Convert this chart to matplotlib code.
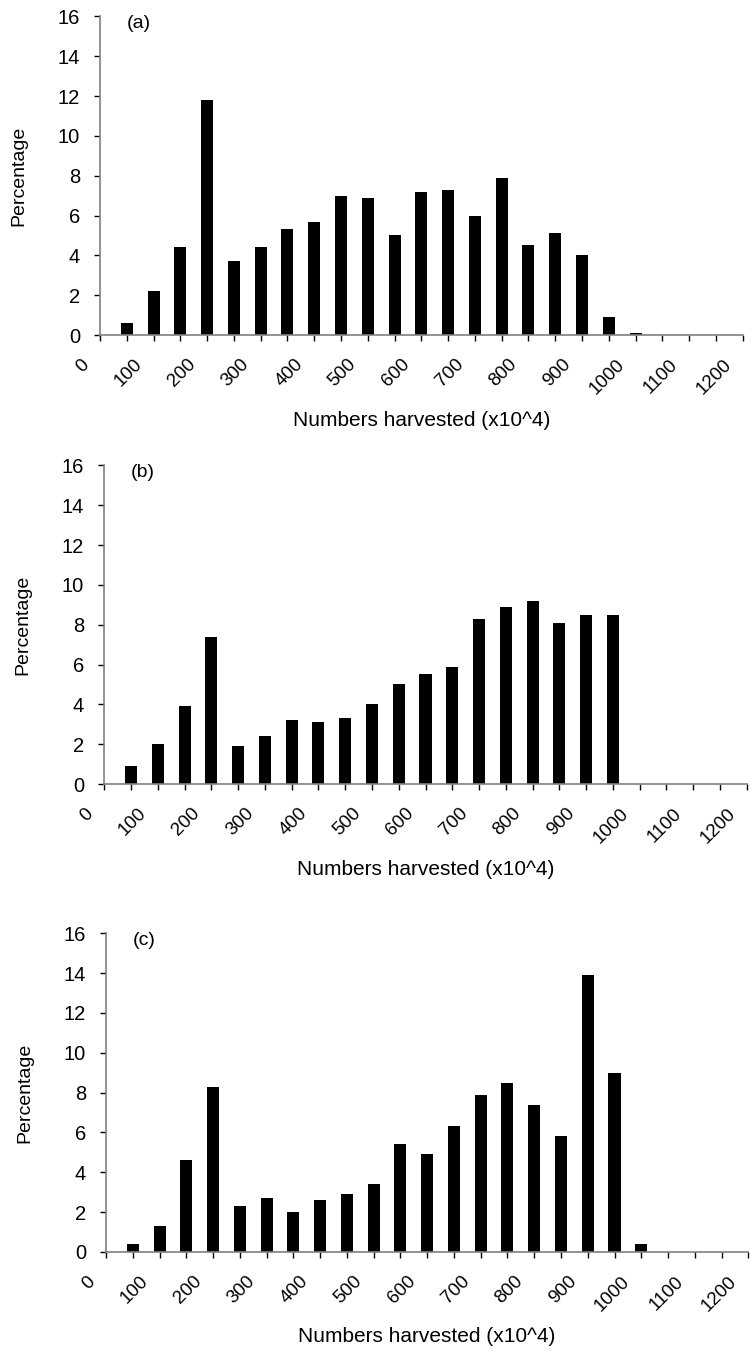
import matplotlib
matplotlib.use("Agg")
import matplotlib.pyplot as plt
from matplotlib.transforms import ScaledTranslation

plt.rcParams['font.family'] = ['Liberation Sans', 'DejaVu Sans']

# bin centres (numbers harvested, x10^4)
bins = [0, 50, 100, 150, 200, 250, 300, 350, 400, 450, 500, 550, 600,
        650, 700, 750, 800, 850, 900, 950, 1000, 1050, 1100, 1150, 1200]

pct_a = [0, 0.6, 2.2, 4.4, 11.8, 3.7, 4.4, 5.3, 5.7, 7.0, 6.9, 5.0, 7.2,
         7.3, 6.0, 7.9, 4.5, 5.1, 4.0, 0.9, 0.1, 0, 0, 0, 0]
pct_b = [0, 0.9, 2.0, 3.9, 7.4, 1.9, 2.4, 3.2, 3.1, 3.3, 4.0, 5.0, 5.5,
         5.9, 8.3, 8.9, 9.2, 8.1, 8.5, 8.5, 0, 0, 0, 0, 0]
pct_c = [0, 0.4, 1.3, 4.6, 8.3, 2.3, 2.7, 2.0, 2.6, 2.9, 3.4, 5.4, 4.9,
         6.3, 7.9, 8.5, 7.4, 5.8, 13.9, 9.0, 0.4, 0, 0, 0, 0]

panels = ['(a)', '(b)', '(c)']
yticks = [0, 2, 4, 6, 8, 10, 12, 14, 16]

fig = plt.figure(figsize=(7.52, 13.52), dpi=100)
boxes = [[0.1330, 0.7522, 0.8546, 0.2357],
         [0.1387, 0.4201, 0.8543, 0.2357],
         [0.1410, 0.0740, 0.8541, 0.2357]]

pos = list(range(len(bins)))

for box, vals, tag in zip(boxes, [pct_a, pct_b, pct_c], panels):
    ax = fig.add_axes(box)
    ax.bar(pos, vals, width=0.45, color='black', linewidth=0)
    ax.set_xlim(0, 24)
    ax.set_ylim(0, 16)
    ax.set_yticks(yticks)
    ax.set_xticks(pos)
    ax.tick_params(axis='x', labelbottom=False)
    # rotated category labels, Excel style (every other bin)
    shift = ScaledTranslation(-0.14, -0.27, fig.dpi_scale_trans)
    for p, b in zip(pos, bins):
        if b % 100 == 0:
            ax.text(p, 0, str(b), transform=ax.get_xaxis_transform() + shift,
                    rotation=45, ha='right', va='center',
                    rotation_mode='anchor', fontsize=13.5)
    for s in ['top', 'right']:
        ax.spines[s].set_visible(False)
    for s in ['left', 'bottom']:
        ax.spines[s].set_color('#808080')
        ax.spines[s].set_linewidth(1.2)
    ax.tick_params(axis='y', length=4.5, width=1, pad=10, labelsize=14.5)
    ax.tick_params(axis='x', length=4.5, width=1)
    ax.set_ylabel('Percentage', fontsize=14, labelpad=22)
    ax.set_xlabel('Numbers harvested (x10^4)', fontsize=15, va='center')
    ax.xaxis.set_label_coords(0.5, -85 / (box[3] * 1352))
    ax.text(1.0, 15.65, tag, fontsize=14, ha='left', va='center')

fig.savefig('out.png', dpi=100)
